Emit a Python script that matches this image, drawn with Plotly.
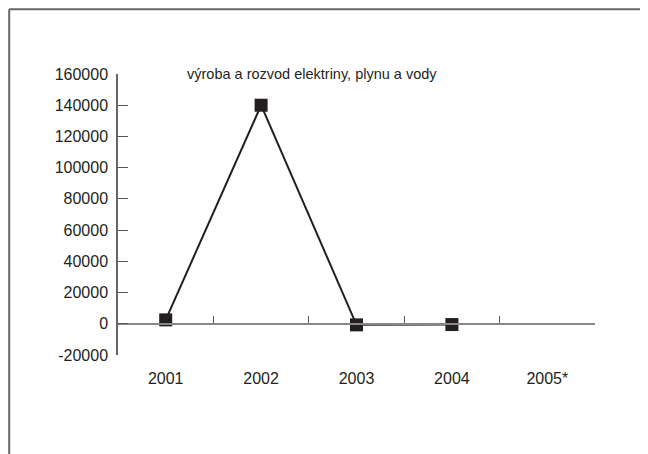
import plotly.graph_objects as go

categories = ["2001", "2002", "2003", "2004", "2005*"]
values = [2500, 140000, -700, -500, None]
y_ticks = [-20000, 0, 20000, 40000, 60000, 80000, 100000, 120000, 140000, 160000]
y_ticktext = ["-20000", "0", "20000", "40000", "60000", "80000", "100000", "120000", "140000", "160000"]
title_text = "výroba a rozvod elektriny, plynu a vody"

OFF = 8  # default page body margin of the browser
W, H = 648 - OFF, 454 - OFF
L, R, T, B = 118 - OFF, 53, 74 - OFF, 99
pw, ph = W - L - R, H - T - B
ymin, ymax = -20000, 160000
zero_pos = (0 - ymin) / (ymax - ymin)

xs = list(range(len(categories)))
dark = "#231f20"
font = dict(family="Liberation Sans, Arial, sans-serif", size=16, color="#231f20")

fig = go.Figure()
fig.add_trace(go.Scatter(
    x=xs, y=values, mode="lines+markers",
    line=dict(color=dark, width=2),
    marker=dict(symbol="square", size=13, color=dark),
    connectgaps=False, showlegend=False, hoverinfo="x+y",
))
# helper trace to carry the axis drawn at y=0
fig.add_trace(go.Scatter(x=xs, y=[None]*len(xs), xaxis="x2", showlegend=False,
                         hoverinfo="skip", mode="lines"))

# frame (top and left edges of the page border), in figure pixels
fx0 = (1.2 - L) / pw
fx1 = (W - L) / pw
fy_top = (H - B - 1.2) / ph
fy_bot = (H - B - H) / ph

fig.update_layout(
    width=W, height=H,
    margin=dict(l=L, r=R, t=T, b=B),
    paper_bgcolor="white", plot_bgcolor="white",
    font=font,
    xaxis=dict(
        range=[-0.5, len(categories) - 0.5],
        tickvals=xs, ticktext=categories,
        ticks="", showline=False, showgrid=False, zeroline=False,
        ticklabelstandoff=12, fixedrange=True,
    ),
    xaxis2=dict(
        overlaying="x", anchor="free", position=zero_pos, side="bottom",
        range=[-0.5, len(categories) - 0.5],
        tickvals=[i + 0.5 for i in xs],
        ticks="inside", ticklen=7, tickwidth=1, tickcolor="#555",
        showticklabels=False,
        showline=True, linecolor="#888", linewidth=1.5,
        showgrid=False, zeroline=False,
    ),
    yaxis=dict(
        range=[ymin, ymax], tickvals=y_ticks, ticktext=y_ticktext,
        ticks="inside", ticklen=10, tickwidth=1, tickcolor="#555",
        showline=True, linecolor="#666", linewidth=1.5,
        showgrid=False, zeroline=False, ticklabelstandoff=5,
    ),
    annotations=[dict(
        text=title_text, xref="paper", yref="paper",
        x=(185 - OFF - L) / pw, y=1.0, xanchor="left", yanchor="middle",
        showarrow=False, font=dict(family=font["family"], size=14.5, color=dark),
    )],
    shapes=[
        dict(type="line", xref="paper", yref="paper",
             x0=fx0, x1=fx1, y0=fy_top, y1=fy_top,
             line=dict(color="#666", width=2), layer="below"),
        dict(type="line", xref="paper", yref="paper",
             x0=fx0, x1=fx0, y0=fy_top, y1=fy_bot,
             line=dict(color="#666", width=2), layer="below"),
    ],
)

fig.write_html("out.html", config={"displayModeBar": False})
